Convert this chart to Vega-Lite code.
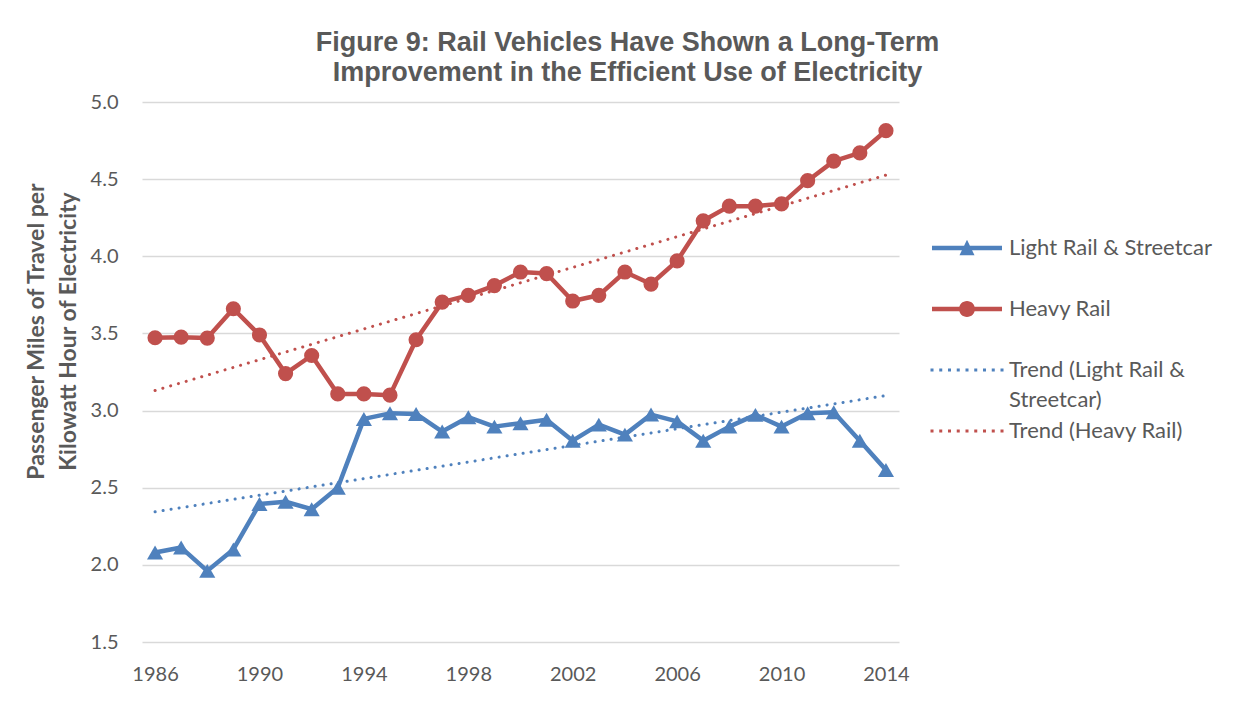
{
  "$schema": "https://vega.github.io/schema/vega-lite/v6.json",
  "width": 757,
  "height": 540,
  "autosize": {"type": "none"},
  "padding": {"left": 142, "top": 102, "right": 342, "bottom": 59},
  "background": "white",
  "config": {"view": {"stroke": null}, "font": "Lato"},
  "title": {
    "text": ["Figure 9: Rail Vehicles Have Shown a Long-Term", "Improvement in the Efficient Use of Electricity"],
    "font": "Liberation Sans", "fontSize": 27, "fontWeight": "bold", "color": "#595959",
    "anchor": "middle", "dx": 107, "offset": 5, "lineHeight": 30
  },
  "data": {"values": [
    {"year": 1986, "value": 2.08, "series": "Light Rail & Streetcar"},
    {"year": 1987, "value": 2.112, "series": "Light Rail & Streetcar"},
    {"year": 1988, "value": 1.961, "series": "Light Rail & Streetcar"},
    {"year": 1989, "value": 2.10, "series": "Light Rail & Streetcar"},
    {"year": 1990, "value": 2.394, "series": "Light Rail & Streetcar"},
    {"year": 1991, "value": 2.409, "series": "Light Rail & Streetcar"},
    {"year": 1992, "value": 2.361, "series": "Light Rail & Streetcar"},
    {"year": 1993, "value": 2.50, "series": "Light Rail & Streetcar"},
    {"year": 1994, "value": 2.946, "series": "Light Rail & Streetcar"},
    {"year": 1995, "value": 2.982, "series": "Light Rail & Streetcar"},
    {"year": 1996, "value": 2.978, "series": "Light Rail & Streetcar"},
    {"year": 1997, "value": 2.864, "series": "Light Rail & Streetcar"},
    {"year": 1998, "value": 2.957, "series": "Light Rail & Streetcar"},
    {"year": 1999, "value": 2.896, "series": "Light Rail & Streetcar"},
    {"year": 2000, "value": 2.918, "series": "Light Rail & Streetcar"},
    {"year": 2001, "value": 2.94, "series": "Light Rail & Streetcar"},
    {"year": 2002, "value": 2.805, "series": "Light Rail & Streetcar"},
    {"year": 2003, "value": 2.909, "series": "Light Rail & Streetcar"},
    {"year": 2004, "value": 2.844, "series": "Light Rail & Streetcar"},
    {"year": 2005, "value": 2.974, "series": "Light Rail & Streetcar"},
    {"year": 2006, "value": 2.93, "series": "Light Rail & Streetcar"},
    {"year": 2007, "value": 2.805, "series": "Light Rail & Streetcar"},
    {"year": 2008, "value": 2.896, "series": "Light Rail & Streetcar"},
    {"year": 2009, "value": 2.972, "series": "Light Rail & Streetcar"},
    {"year": 2010, "value": 2.896, "series": "Light Rail & Streetcar"},
    {"year": 2011, "value": 2.982, "series": "Light Rail & Streetcar"},
    {"year": 2012, "value": 2.989, "series": "Light Rail & Streetcar"},
    {"year": 2013, "value": 2.805, "series": "Light Rail & Streetcar"},
    {"year": 2014, "value": 2.615, "series": "Light Rail & Streetcar"},
    {"year": 1986, "value": 3.472, "series": "Heavy Rail"},
    {"year": 1987, "value": 3.476, "series": "Heavy Rail"},
    {"year": 1988, "value": 3.47, "series": "Heavy Rail"},
    {"year": 1989, "value": 3.66, "series": "Heavy Rail"},
    {"year": 1990, "value": 3.49, "series": "Heavy Rail"},
    {"year": 1991, "value": 3.24, "series": "Heavy Rail"},
    {"year": 1992, "value": 3.357, "series": "Heavy Rail"},
    {"year": 1993, "value": 3.108, "series": "Heavy Rail"},
    {"year": 1994, "value": 3.108, "series": "Heavy Rail"},
    {"year": 1995, "value": 3.10, "series": "Heavy Rail"},
    {"year": 1996, "value": 3.459, "series": "Heavy Rail"},
    {"year": 1997, "value": 3.703, "series": "Heavy Rail"},
    {"year": 1998, "value": 3.747, "series": "Heavy Rail"},
    {"year": 1999, "value": 3.81, "series": "Heavy Rail"},
    {"year": 2000, "value": 3.898, "series": "Heavy Rail"},
    {"year": 2001, "value": 3.888, "series": "Heavy Rail"},
    {"year": 2002, "value": 3.71, "series": "Heavy Rail"},
    {"year": 2003, "value": 3.747, "series": "Heavy Rail"},
    {"year": 2004, "value": 3.898, "series": "Heavy Rail"},
    {"year": 2005, "value": 3.82, "series": "Heavy Rail"},
    {"year": 2006, "value": 3.97, "series": "Heavy Rail"},
    {"year": 2007, "value": 4.23, "series": "Heavy Rail"},
    {"year": 2008, "value": 4.325, "series": "Heavy Rail"},
    {"year": 2009, "value": 4.325, "series": "Heavy Rail"},
    {"year": 2010, "value": 4.34, "series": "Heavy Rail"},
    {"year": 2011, "value": 4.49, "series": "Heavy Rail"},
    {"year": 2012, "value": 4.617, "series": "Heavy Rail"},
    {"year": 2013, "value": 4.67, "series": "Heavy Rail"},
    {"year": 2014, "value": 4.814, "series": "Heavy Rail"},
    {"year": 1986, "value": 2.344, "series": "Trend (Light Rail & Streetcar)"},
    {"year": 2014, "value": 3.097, "series": "Trend (Light Rail & Streetcar)"},
    {"year": 1986, "value": 3.13, "series": "Trend (Heavy Rail)"},
    {"year": 2014, "value": 4.526, "series": "Trend (Heavy Rail)"}
  ]},
  "encoding": {
    "x": {
      "field": "year", "type": "quantitative",
      "scale": {"domain": [1985.5, 2014.5], "nice": false, "zero": false},
      "axis": {
        "title": null, "values": [1986, 1990, 1994, 1998, 2002, 2006, 2010, 2014], "format": "d",
        "grid": false, "ticks": false, "tickSize": 0, "domain": false,
        "labelPadding": 22, "labelFont": "Lato", "labelFontSize": 20, "labelColor": "#595959"
      }
    },
    "y": {
      "field": "value", "type": "quantitative",
      "scale": {"domain": [1.5, 5.0], "nice": false, "zero": false},
      "axis": {
        "title": ["Passenger Miles of Travel per", "Kilowatt Hour of Electricity"],
        "titleFont": "Lato", "titleFontSize": 23, "titleFontWeight": "bold", "titleColor": "#595959",
        "titleLineHeight": 32, "titleX": -106, "titleY": 229, "titleBaseline": "middle", "titleAngle": -90, "titleAlign": "center",
        "values": [1.5, 2.0, 2.5, 3.0, 3.5, 4.0, 4.5, 5.0], "format": ".1f",
        "grid": true, "gridColor": "#D9D9D9", "gridWidth": 1.3,
        "ticks": false, "tickSize": 0, "domain": false,
        "labelPadding": 24, "labelFont": "Lato", "labelFontSize": 20, "labelColor": "#595959"
      }
    }
  },
  "layer": [
    {
      "transform": [{"filter": "datum.series == 'Trend (Light Rail & Streetcar)'"}],
      "mark": {"type": "line", "color": "#4F81BD", "strokeWidth": 3, "strokeDash": [0.1, 8], "strokeCap": "round"}
    },
    {
      "transform": [{"filter": "datum.series == 'Trend (Heavy Rail)'"}],
      "mark": {"type": "line", "color": "#C0504D", "strokeWidth": 3, "strokeDash": [0.1, 8], "strokeCap": "round"}
    },
    {
      "transform": [{"filter": "datum.series == 'Light Rail & Streetcar'"}],
      "mark": {"type": "line", "color": "#4F81BD", "strokeWidth": 4.5, "strokeJoin": "round", "strokeCap": "round"}
    },
    {
      "transform": [{"filter": "datum.series == 'Heavy Rail'"}],
      "mark": {"type": "line", "color": "#C0504D", "strokeWidth": 4.5, "strokeJoin": "round", "strokeCap": "round"}
    },
    {
      "transform": [{"filter": "datum.series == 'Light Rail & Streetcar'"}],
      "mark": {"type": "point", "shape": "triangle-up", "filled": true, "opacity": 1, "color": "#4F81BD", "size": 260}
    },
    {
      "transform": [{"filter": "datum.series == 'Heavy Rail'"}],
      "mark": {"type": "point", "shape": "circle", "filled": true, "opacity": 1, "color": "#C0504D", "size": 230}
    },
    {
      "transform": [{"filter": "datum.year < 0"}],
      "mark": {"type": "point", "filled": true, "opacity": 1, "size": 1024},
      "encoding": {
        "color": {
          "field": "series", "type": "nominal",
          "scale": {
            "domain": ["Light Rail & Streetcar", "Heavy Rail", "Trend (Light Rail & Streetcar)", "Trend (Heavy Rail)"],
            "range": ["#4F81BD", "#C0504D", "#4F81BD", "#C0504D"]
          },
          "legend": {
            "title": null, "orient": "none", "legendX": 809, "legendY": 130,
            "symbolSize": 1024, "symbolStrokeWidth": 0, "symbolOpacity": 1,
            "labelFont": "Lato", "labelFontSize": 22, "labelColor": "#595959", "labelOffset": 26,
            "labelLimit": 400, "rowPadding": 0, "padding": 0,
            "labelExpr": "datum.label == 'Trend (Light Rail & Streetcar)' ? ['Trend (Light Rail &', 'Streetcar)'] : datum.label",
            "encode": {"labels": {"update": {"lineHeight": {"value": 30}}}}
          }
        },
        "shape": {
          "field": "series", "type": "nominal",
          "scale": {
            "domain": ["Light Rail & Streetcar", "Heavy Rail", "Trend (Light Rail & Streetcar)", "Trend (Heavy Rail)"],
            "range": [
              "M0,-0.9M0,2.8125M-2.1875,-0.144H2.1875V0.144H-2.1875ZM0,-0.52L0.47,0.456H-0.47Z",
              "M0,-0.9M0,2.8125M-2.1875,-0.144H2.1875V0.144H-2.1875ZM0.5,0A0.5,0.5 0 1,1 -0.5,0A0.5,0.5 0 1,1 0.5,0Z",
              "M0,-0.9M0,2.8125M-2.281,-0.094h0.188v0.188h-0.188ZM-1.735,-0.094h0.188v0.188h-0.188ZM-1.188,-0.094h0.188v0.188h-0.188ZM-0.641,-0.094h0.188v0.188h-0.188ZM-0.094,-0.094h0.188v0.188h-0.188ZM0.453,-0.094h0.188v0.188h-0.188ZM1.0,-0.094h0.188v0.188h-0.188ZM1.547,-0.094h0.188v0.188h-0.188ZM2.094,-0.094h0.188v0.188h-0.188Z",
              "M0,-0.9M0,2.8125M-2.281,-0.094h0.188v0.188h-0.188ZM-1.735,-0.094h0.188v0.188h-0.188ZM-1.188,-0.094h0.188v0.188h-0.188ZM-0.641,-0.094h0.188v0.188h-0.188ZM-0.094,-0.094h0.188v0.188h-0.188ZM0.453,-0.094h0.188v0.188h-0.188ZM1.0,-0.094h0.188v0.188h-0.188ZM1.547,-0.094h0.188v0.188h-0.188ZM2.094,-0.094h0.188v0.188h-0.188Z"
            ]
          },
          "legend": {
            "title": null, "orient": "none", "legendX": 809, "legendY": 130,
            "symbolSize": 1024, "symbolStrokeWidth": 0, "symbolOpacity": 1,
            "labelFont": "Lato", "labelFontSize": 22, "labelColor": "#595959", "labelOffset": 26,
            "labelLimit": 400, "rowPadding": 0, "padding": 0,
            "labelExpr": "datum.label == 'Trend (Light Rail & Streetcar)' ? ['Trend (Light Rail &', 'Streetcar)'] : datum.label",
            "encode": {"labels": {"update": {"lineHeight": {"value": 30}}}}
          }
        }
      }
    }
  ]
}
